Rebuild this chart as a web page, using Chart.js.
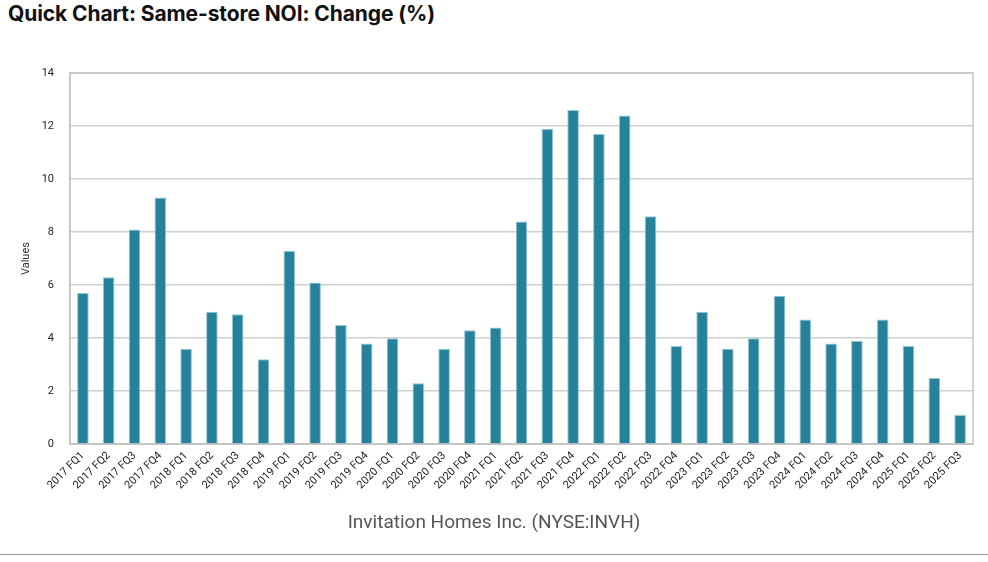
<!DOCTYPE html>
<html>
<head>
<meta charset="utf-8">
<script src="https://cdn.jsdelivr.net/npm/chart.js@4"></script>
<style>
  html, body { margin: 0; padding: 0; background: #fff; }
  body { width: 988px; height: 562px; position: relative; overflow: hidden; }
  #title { position: absolute; left: 8px; top: 1px; font-family: "Inter", "Roboto", sans-serif; font-weight: 700; font-size: 21px; color: #111; letter-spacing: -0.1px; }
  #wrap { position: absolute; left: 0; top: 0; width: 988px; height: 562px; }
  #rule { position: absolute; left: 0; top: 554px; width: 988px; height: 0; border-top: 1.5px solid #9a9a9a; }
</style>
</head>
<body>
<div id="title">Quick Chart: Same-store NOI: Change (%)</div>
<div id="wrap"><canvas id="c"></canvas></div>
<div id="rule"></div>
<script>
const categories = [
  "2017 FQ1","2017 FQ2","2017 FQ3","2017 FQ4",
  "2018 FQ1","2018 FQ2","2018 FQ3","2018 FQ4",
  "2019 FQ1","2019 FQ2","2019 FQ3","2019 FQ4",
  "2020 FQ1","2020 FQ2","2020 FQ3","2020 FQ4",
  "2021 FQ1","2021 FQ2","2021 FQ3","2021 FQ4",
  "2022 FQ1","2022 FQ2","2022 FQ3","2022 FQ4",
  "2023 FQ1","2023 FQ2","2023 FQ3","2023 FQ4",
  "2024 FQ1","2024 FQ2","2024 FQ3","2024 FQ4",
  "2025 FQ1","2025 FQ2","2025 FQ3"
];
const noiChange = [
  5.7, 6.3, 8.1, 9.3,
  3.6, 5.0, 4.9, 3.2,
  7.3, 6.1, 4.5, 3.8,
  4.0, 2.3, 3.6, 4.3,
  4.4, 8.4, 11.9, 12.6,
  11.7, 12.4, 8.6, 3.7,
  5.0, 3.6, 4.0, 5.6,
  4.7, 3.8, 3.9, 4.7,
  3.7, 2.5, 1.1
];
const yTicks = [0, 2, 4, 6, 8, 10, 12, 14];
const yAxisTitle = "Values";
const xAxisTitle = "Invitation Homes Inc. (NYSE:INVH)";

const frame = {
  id: 'frame',
  afterDatasetsDraw(chart) {
    const a = chart.chartArea, ctx = chart.ctx;
    ctx.save();
    ctx.strokeStyle = '#c4c4c4';
    ctx.lineWidth = 1.5;
    ctx.strokeRect(a.left, a.top, a.right - a.left, a.bottom - a.top);
    ctx.restore();
  }
};

new Chart(document.getElementById('c'), {
  type: 'bar',
  data: {
    labels: categories,
    datasets: [{
      label: yAxisTitle,
      data: noiChange,
      backgroundColor: '#25829a',
      borderColor: '#93c6d2',
      borderWidth: 1,
      categoryPercentage: 1,
      barPercentage: 0.45
    }]
  },
  options: {
    responsive: true,
    maintainAspectRatio: false,
    animation: false,
    layout: { padding: { top: 73, right: 0, bottom: 0, left: 0 } },
    plugins: {
      legend: { display: false },
      tooltip: { enabled: false },
      title: {
        display: true,
        position: 'bottom',
        text: xAxisTitle,
        color: '#555',
        font: { family: 'Roboto, "Noto Sans", sans-serif', size: 19, weight: 'normal' },
        padding: { top: 0, bottom: 27 }
      }
    },
    scales: {
      x: {
        grid: { display: false, drawTicks: false },
        border: { display: true, color: '#c4c4c4', width: 1.5 },
        afterFit(s) { s.height = 68; },
        ticks: {
          autoSkip: false,
          minRotation: 45,
          maxRotation: 45,
          padding: 5,
          color: '#222',
          font: { family: 'Roboto, "Noto Sans", sans-serif', size: 11 }
        }
      },
      y: {
        min: 0,
        max: 14,
        afterFit(s) { s.width = 70; },
        afterBuildTicks(s) { s.ticks = yTicks.map(v => ({ value: v })); },
        grid: { color: '#cfcfcf', lineWidth: 1.5, drawTicks: false },
        border: { display: true, color: '#c4c4c4', width: 1.5 },
        ticks: {
          padding: 16,
          color: '#222',
          font: { family: 'Roboto, "Noto Sans", sans-serif', size: 11 }
        },
        title: {
          display: true,
          text: yAxisTitle,
          color: '#333',
          padding: { top: 20, bottom: 0 },
          font: { family: 'Roboto, "Noto Sans", sans-serif', size: 11 }
        }
      },
      yRight: {
        position: 'right',
        min: 0,
        max: 14,
        afterFit(s) { s.width = 15; },
        grid: { display: false, drawOnChartArea: false, drawTicks: false },
        border: { display: false },
        ticks: { display: false }
      }
    }
  },
  plugins: [frame]
});
</script>
</body>
</html>
